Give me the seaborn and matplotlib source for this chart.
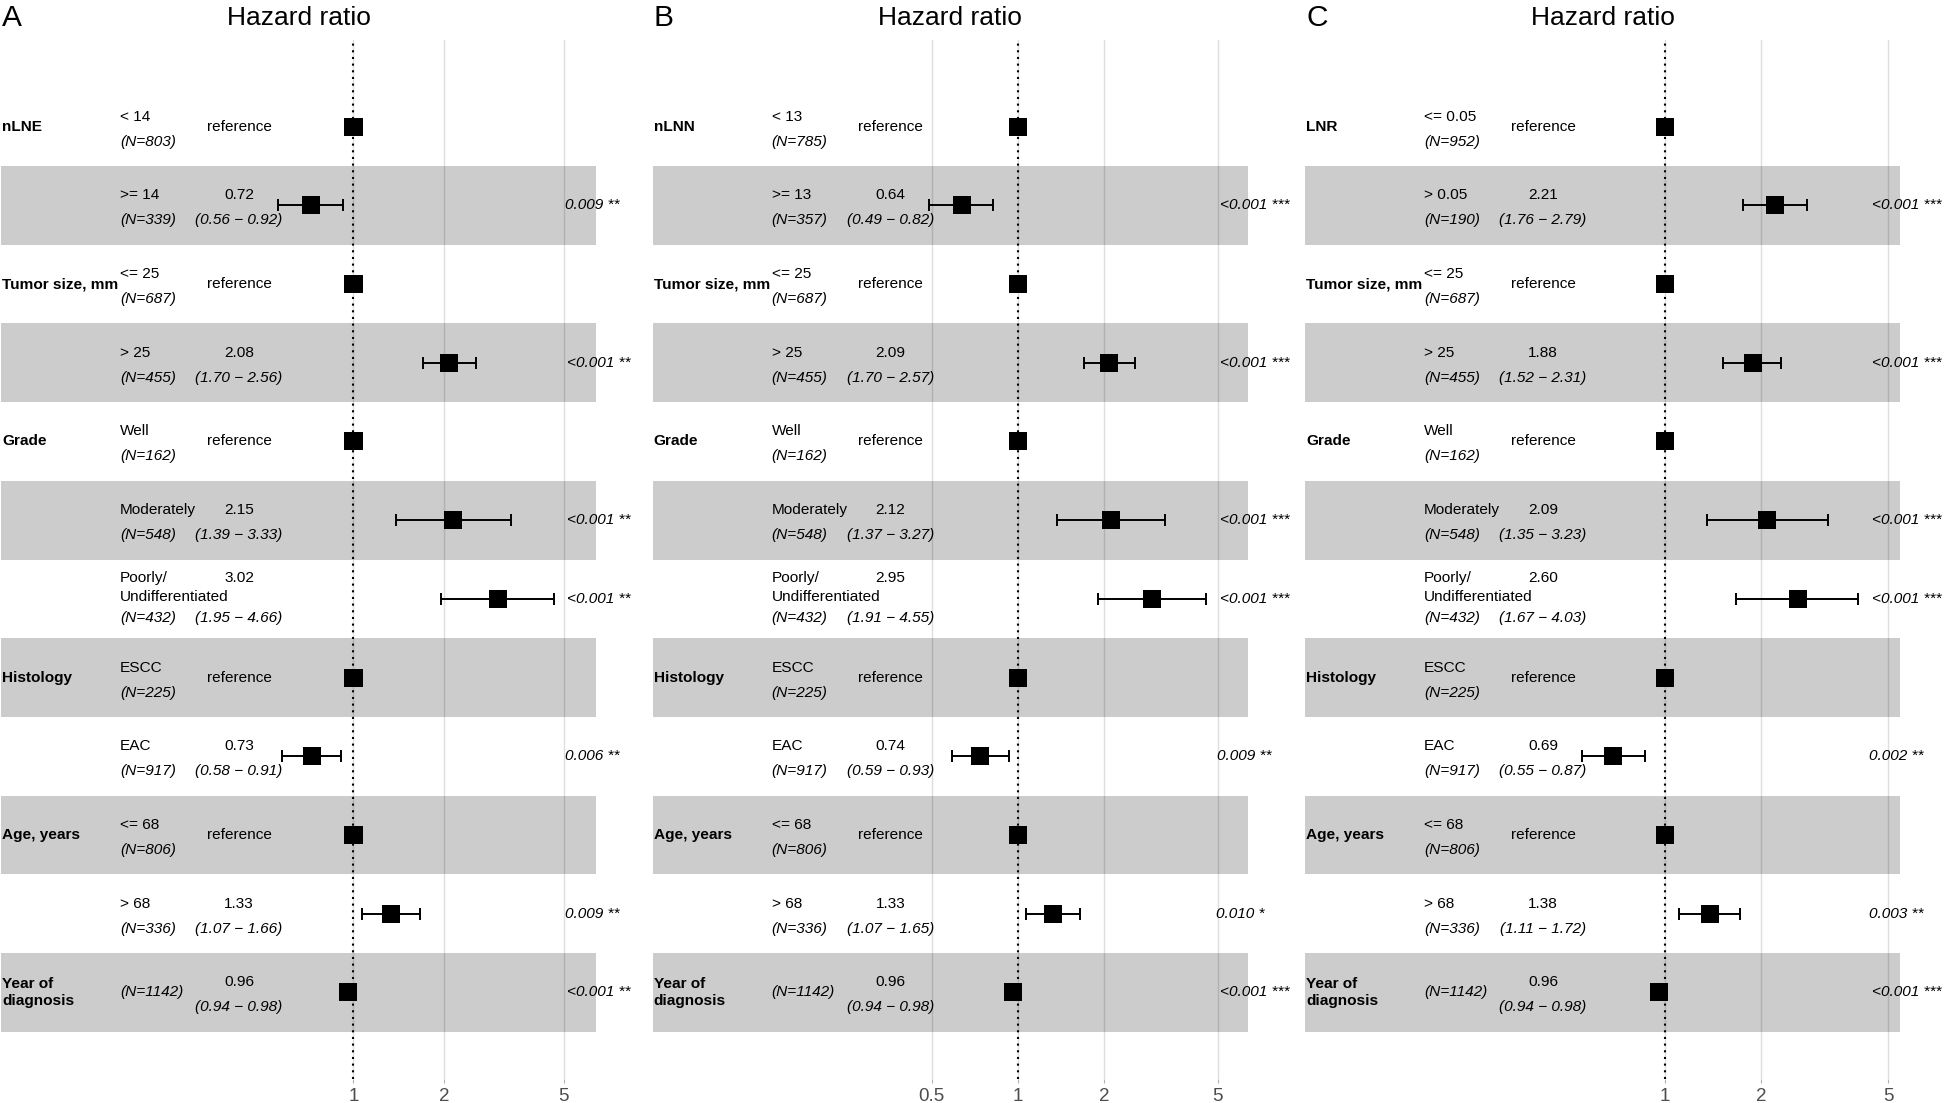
import numpy as np
import matplotlib
matplotlib.use("Agg")
import matplotlib.pyplot as plt
import seaborn as sns

# rows listed from top to bottom, same layout in all three panels
nan = np.nan
var_common = ["", "Tumor size, mm", "", "Grade", "", "", "Histology", "",
              "Age, years", "", "Year of\ndiagnosis"]
lev_common = ["<= 25", "> 25", "Well", "Moderately", "Poorly/\nUndifferentiated",
              "ESCC", "EAC", "<= 68", "> 68", ""]
n_common = [687, 455, 162, 548, 432, 225, 917, 806, 336, 1142]

# Panel A: nLNE
vars_a = ["nLNE"] + var_common
levels_a = ["< 14", ">= 14"] + lev_common
n_a = [803, 339] + n_common
hr_a = [1, 0.72, 1, 2.08, 1, 2.15, 3.02, 1, 0.73, 1, 1.33, 0.96]
lo_a = [nan, 0.56, nan, 1.70, nan, 1.39, 1.95, nan, 0.58, nan, 1.07, 0.94]
hi_a = [nan, 0.92, nan, 2.56, nan, 3.33, 4.66, nan, 0.91, nan, 1.66, 0.98]
p_a = ["", "0.009 **", "", "<0.001 **", "", "<0.001 **", "<0.001 **", "",
       "0.006 **", "", "0.009 **", "<0.001 **"]
ticks_a = [1, 2, 5]

# Panel B: nLNN
vars_b = ["nLNN"] + var_common
levels_b = ["< 13", ">= 13"] + lev_common
n_b = [785, 357] + n_common
hr_b = [1, 0.64, 1, 2.09, 1, 2.12, 2.95, 1, 0.74, 1, 1.33, 0.96]
lo_b = [nan, 0.49, nan, 1.70, nan, 1.37, 1.91, nan, 0.59, nan, 1.07, 0.94]
hi_b = [nan, 0.82, nan, 2.57, nan, 3.27, 4.55, nan, 0.93, nan, 1.65, 0.98]
p_b = ["", "<0.001 ***", "", "<0.001 ***", "", "<0.001 ***", "<0.001 ***", "",
       "0.009 **", "", "0.010 *", "<0.001 ***"]
ticks_b = [0.5, 1, 2, 5]

# Panel C: LNR
vars_c = ["LNR"] + var_common
levels_c = ["<= 0.05", "> 0.05"] + lev_common
n_c = [952, 190] + n_common
hr_c = [1, 2.21, 1, 1.88, 1, 2.09, 2.60, 1, 0.69, 1, 1.38, 0.96]
lo_c = [nan, 1.76, nan, 1.52, nan, 1.35, 1.67, nan, 0.55, nan, 1.11, 0.94]
hi_c = [nan, 2.79, nan, 2.31, nan, 3.23, 4.03, nan, 0.87, nan, 1.72, 0.98]
p_c = ["", "<0.001 ***", "", "<0.001 ***", "", "<0.001 ***", "<0.001 ***", "",
       "0.002 **", "", "0.003 **", "<0.001 ***"]
ticks_c = [1, 2, 5]

panel_letters = ["A", "B", "C"]

sns.set_theme(style="white")
plt.rcParams["font.family"] = ["Liberation Sans", "DejaVu Sans"]

W, H = 1946, 1103
fig = plt.figure(figsize=(W / 100, H / 100), dpi=100)
renderer = fig.canvas.get_renderer()

FS = 11.1
cpos = (0.002, 0.2, 0.4)


def forest(ax, varnames, levels, ns, hr, lo, hi, pvals, ticks):
    hr = np.array(hr, float)
    lo = np.array(lo, float)
    hi = np.array(hi, float)
    nrow = len(hr)
    pos = np.arange(nrow, 0, -1)
    ref = np.isnan(lo)

    # same range logic as survminer::ggforest
    rb = np.array([np.log(np.nanmin(lo)), np.log(np.nanmax(hi))])
    d = rb[1] - rb[0]
    rp = np.array([rb[0] - d, rb[1] + 0.15 * d])
    width = rp[1] - rp[0]
    x_var = np.exp(rp[0] + cpos[0] * width)
    x_lev = np.exp(rp[0] + cpos[1] * width)
    x_ci = np.exp(rp[0] + cpos[2] * width)
    x_star = np.exp(rb[1])

    # alternating bands
    for y in pos:
        if y % 2 == 0:
            continue
        ax.axhspan(y - 0.5, y + 0.5, color="black", alpha=0.2, lw=0, zorder=1)

    ok = ~ref
    ax.errorbar(hr[ok], pos[ok], xerr=[hr[ok] - lo[ok], hi[ok] - hr[ok]],
                fmt="none", ecolor="black", elinewidth=1.4, capsize=4.3,
                capthick=1.4, zorder=3)
    sns.scatterplot(x=hr, y=pos, marker="s", s=13 ** 2, color="black",
                    edgecolor="none", linewidth=0, ax=ax, zorder=4, legend=False)
    ax.axvline(1, color="black", lw=1.5, ls=(0, (1, 2.2)), zorder=5)

    for i in range(nrow):
        y = pos[i]
        tall = "\n" in levels[i]
        up = 21 if tall else 10
        dn = -19 if tall else -15
        if varnames[i]:
            ax.annotate(varnames[i], (x_var, y), ha="left", va="center",
                        fontsize=FS, fontweight="bold", color="black")
        if levels[i]:
            if tall:
                first, second = levels[i].split("\n")
                ax.annotate(first, (x_lev, y), xytext=(0, 21),
                            textcoords="offset pixels", ha="left", va="center",
                            fontsize=FS, color="black")
                ax.annotate(second, (x_lev, y), xytext=(0, 2),
                            textcoords="offset pixels", ha="left", va="center",
                            fontsize=FS, color="black")
            else:
                ax.annotate(levels[i], (x_lev, y), xytext=(0, 10),
                            textcoords="offset pixels", ha="left", va="center",
                            fontsize=FS, color="black")
            ax.annotate(f"(N={ns[i]})", (x_lev, y), xytext=(0, dn),
                        textcoords="offset pixels", ha="left", va="center",
                        fontsize=FS, style="italic", color="black")
        else:
            ax.annotate(f"(N={ns[i]})", (x_lev, y), ha="left", va="center",
                        fontsize=FS, style="italic", color="black")
        if ref[i]:
            ax.annotate("reference", (x_ci, y), ha="center", va="center",
                        fontsize=FS, color="black")
        else:
            ax.annotate(f"{hr[i]:.2f}", (x_ci, y), xytext=(0, up),
                        textcoords="offset pixels", ha="center", va="center",
                        fontsize=FS, color="black")
            ax.annotate(f"({lo[i]:.2f} \u2212 {hi[i]:.2f})", (x_ci, y),
                        xytext=(0, dn), textcoords="offset pixels",
                        ha="center", va="center", fontsize=FS,
                        style="italic", color="black")
        if pvals[i]:
            t = ax.annotate(pvals[i], (x_star, y), xytext=(0, 0),
                            textcoords="offset pixels", ha="left", va="center",
                            fontsize=FS, style="italic", color="black")
            w = t.get_window_extent(renderer).width
            t.xyann = (0.2 * w, 0)  # hjust = -0.2

    ax.set_xscale("log")
    ax.set_xlim(np.exp(rp[0]), np.exp(rp[1]))
    ax.set_ylim(0.5 - 0.6, nrow + 0.5 + 0.6)
    ax.set_xticks(ticks)
    ax.set_xticklabels([f"{t:g}" for t in ticks])
    ax.xaxis.set_minor_locator(matplotlib.ticker.NullLocator())
    ax.set_yticks([])
    ax.grid(axis="x", color="#DEDEDE", lw=1.0)
    ax.set_axisbelow(True)
    for s in ax.spines.values():
        s.set_visible(False)
    ax.tick_params(axis="x", bottom=True, length=3.0, width=0.8,
                   color="#B3B3B3", labelcolor="#4D4D4D", labelsize=13.5,
                   pad=3.2)
    ax.set_xlabel("")
    ax.set_ylabel("")


panels = [
    (vars_a, levels_a, n_a, hr_a, lo_a, hi_a, p_a, ticks_a),
    (vars_b, levels_b, n_b, hr_b, lo_b, hi_b, p_b, ticks_b),
    (vars_c, levels_c, n_c, hr_c, lo_c, hi_c, p_c, ticks_c),
]
band_left = [1, 652.5, 1305]
band_w = 595
top_px, bot_px = 40, 1079

for k, args in enumerate(panels):
    ax = fig.add_axes([band_left[k] / W, (H - bot_px) / H,
                       band_w / W, (bot_px - top_px) / H])
    forest(ax, *args)
    fig.text((band_left[k] + band_w / 2) / W, 1 - 18 / H, "Hazard ratio",
             ha="center", va="center", fontsize=19, color="black")
    fig.text((band_left[k] + 1) / W, 1 - 17.5 / H, panel_letters[k],
             ha="left", va="center", fontsize=21.5, color="black")

fig.savefig("out.png", dpi=100)
